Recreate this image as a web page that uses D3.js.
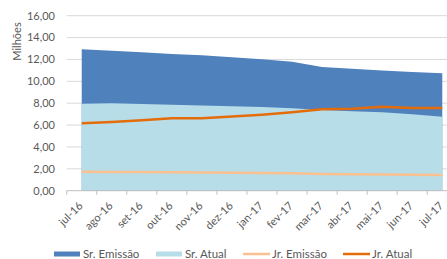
<!DOCTYPE html>
<html>
<head>
<meta charset="utf-8">
<script src="https://cdn.jsdelivr.net/npm/d3@7"></script>
<style>
  body { margin: 0; background: #fff; }
  text { font-family: Lato, "Liberation Sans", sans-serif; fill: #595959; }
</style>
</head>
<body>
<div id="chart"></div>
<script>
const months = ["jul-16", "ago-16", "set-16", "out-16", "nov-16", "dez-16", "jan-17",
  "fev-17", "mar-17", "abr-17", "mai-17", "jun-17", "jul-17"];
const srEmissao = [12.93, 12.8, 12.65, 12.5, 12.38, 12.2, 12.02, 11.8, 11.3, 11.15, 11.0, 10.86, 10.73];
const srAtual = [7.95, 7.99, 7.92, 7.86, 7.8, 7.72, 7.65, 7.53, 7.38, 7.26, 7.17, 6.98, 6.76];
const jrEmissao = [1.74, 1.72, 1.7, 1.68, 1.66, 1.64, 1.62, 1.6, 1.52, 1.5, 1.48, 1.46, 1.44];
const jrAtual = [6.16, 6.28, 6.45, 6.62, 6.63, 6.78, 6.95, 7.17, 7.44, 7.5, 7.68, 7.55, 7.55];
const yTicks = [0, 2, 4, 6, 8, 10, 12, 14, 16];

const svgWidth = 447, svgHeight = 259;
const plot = { left: 66.7, right: 457.3, top: 15.7, bottom: 190.7 };

const svg = d3.select("#chart").append("svg")
  .attr("width", svgWidth)
  .attr("height", svgHeight);

const x = d3.scaleBand().domain(months).range([plot.left, plot.right]);
const y = d3.scaleLinear().domain([0, 16]).range([plot.bottom, plot.top]);
const cx = d => x(d) + x.bandwidth() / 2;

// gridlines
svg.append("g").selectAll("line")
  .data(yTicks.slice(1))
  .join("line")
  .attr("x1", plot.left).attr("x2", plot.right)
  .attr("y1", d => y(d)).attr("y2", d => y(d))
  .attr("stroke", "#d9d9d9").attr("stroke-width", 1);

// areas
const area = vals => d3.area()
  .x((d, i) => cx(months[i]))
  .y0(y(0))
  .y1(d => y(d))(vals);

svg.append("path").attr("d", area(srEmissao)).attr("fill", "#4f81bd");
svg.append("path").attr("d", area(srAtual)).attr("fill", "#b7dde8");

// lines
const line = d3.line().x((d, i) => cx(months[i])).y(d => y(d));
svg.append("path").attr("d", line(jrEmissao))
  .attr("fill", "none").attr("stroke", "#fac090").attr("stroke-width", 2.5);
svg.append("path").attr("d", line(jrAtual))
  .attr("fill", "none").attr("stroke", "#e46c0a").attr("stroke-width", 2.5);

// y axis labels
svg.append("g").selectAll("text")
  .data(yTicks)
  .join("text")
  .attr("x", 55).attr("y", d => y(d))
  .attr("dy", "0.35em")
  .attr("text-anchor", "end")
  .style("font-size", "11px")
  .text(d => d3.format(".2f")(d).replace(".", ","));

svg.append("text")
  .attr("transform", "translate(21,41.5) rotate(-90)")
  .attr("text-anchor", "middle")
  .style("font-size", "11px")
  .text("Milhões");

// x axis
const xAxis = svg.append("g").attr("transform", `translate(0,${plot.bottom})`);
xAxis.append("line").attr("x1", plot.left).attr("x2", plot.right).attr("stroke", "#bfbfbf");
xAxis.selectAll(".tick")
  .data(months.concat(["end"]))
  .join("line")
  .attr("x1", (d, i) => plot.left + i * x.bandwidth())
  .attr("x2", (d, i) => plot.left + i * x.bandwidth())
  .attr("y1", 0).attr("y2", 4)
  .attr("stroke", "#bfbfbf");

xAxis.selectAll(".lbl")
  .data(months)
  .join("text")
  .attr("transform", d => `translate(${cx(d) - 1},${13}) rotate(-45)`)
  .attr("text-anchor", "end")
  .attr("dy", "0.35em")
  .style("font-size", "11px")
  .text(d => d);

// legend
const legend = [
  { name: "Sr. Emissão", color: "#4f81bd", type: "box", x: 54 },
  { name: "Sr. Atual", color: "#b7dde8", type: "box", x: 156 },
  { name: "Jr. Emissão", color: "#fac090", type: "line", x: 243 },
  { name: "Jr. Atual", color: "#e46c0a", type: "line", x: 343 }
];
const lg = svg.append("g").selectAll("g").data(legend).join("g")
  .attr("transform", d => `translate(${d.x},254)`);
lg.filter(d => d.type === "box").append("rect")
  .attr("x", 0).attr("y", -2.5).attr("width", 26).attr("height", 5)
  .attr("fill", d => d.color);
lg.filter(d => d.type === "line").append("line")
  .attr("x1", 0).attr("x2", 27).attr("y1", 0).attr("y2", 0)
  .attr("stroke", d => d.color).attr("stroke-width", 2.5);
lg.append("text")
  .attr("x", 29).attr("dy", "0.35em")
  .style("font-size", "11.5px")
  .text(d => d.name);
</script>
</body>
</html>
